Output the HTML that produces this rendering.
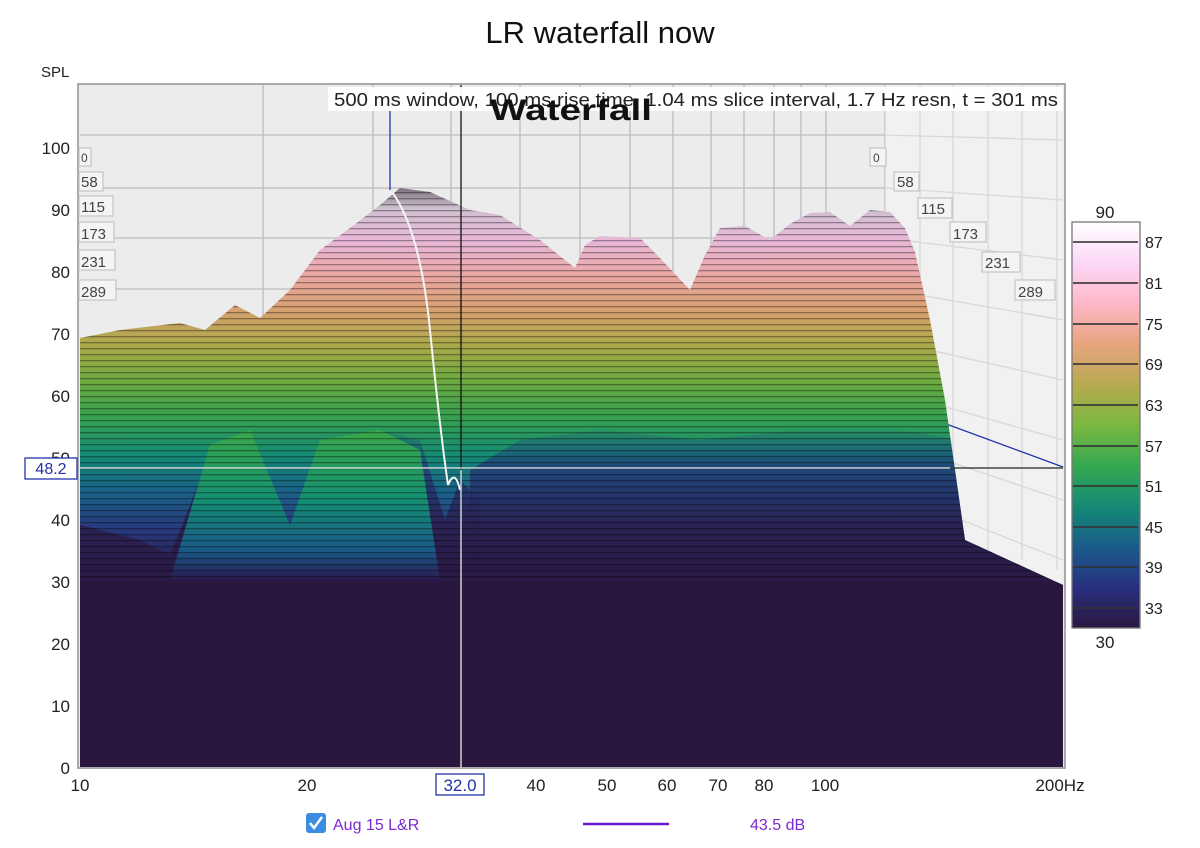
<!DOCTYPE html>
<html><head><meta charset="utf-8"><style>
body{margin:0;background:#fff;font-family:"Liberation Sans",sans-serif;}
svg{display:block}
</style></head><body>
<svg width="1200" height="848" viewBox="0 0 1200 848" xmlns="http://www.w3.org/2000/svg" font-family="Liberation Sans, sans-serif">
<defs>
<linearGradient id="g" gradientUnits="userSpaceOnUse" x1="0" y1="180" x2="0" y2="585">
<stop offset="0" stop-color="#5a5058"/>
<stop offset="0.07" stop-color="#cfc0d0"/>
<stop offset="0.15" stop-color="#e8b8d8"/>
<stop offset="0.23" stop-color="#eaa8a8"/>
<stop offset="0.32" stop-color="#d8a070"/>
<stop offset="0.41" stop-color="#a8a848"/>
<stop offset="0.50" stop-color="#6aaa40"/>
<stop offset="0.59" stop-color="#35a050"/>
<stop offset="0.68" stop-color="#158a74"/>
<stop offset="0.77" stop-color="#1a6088"/>
<stop offset="0.86" stop-color="#283a7c"/>
<stop offset="0.94" stop-color="#2b2158"/>
<stop offset="1" stop-color="#2b1640"/>
</linearGradient>
<linearGradient id="g2" gradientUnits="userSpaceOnUse" x1="0" y1="420" x2="0" y2="600">
<stop offset="0" stop-color="#1e5a88" stop-opacity="0"/>
<stop offset="0.25" stop-color="#223a78" stop-opacity="0.75"/>
<stop offset="0.6" stop-color="#2a2050" stop-opacity="0.95"/>
<stop offset="1" stop-color="#2b1640"/>
</linearGradient>
<linearGradient id="gg" gradientUnits="userSpaceOnUse" x1="0" y1="430" x2="0" y2="580">
<stop offset="0" stop-color="#3aa84a"/>
<stop offset="0.45" stop-color="#159070"/>
<stop offset="0.8" stop-color="#1a5a88"/>
<stop offset="1" stop-color="#2b1a50"/>
</linearGradient>
<linearGradient id="cb" x1="0" y1="0" x2="0" y2="1">
<stop offset="0" stop-color="#ffffff"/>
<stop offset="0.1" stop-color="#fcd8f8"/>
<stop offset="0.2" stop-color="#ffb8c8"/>
<stop offset="0.3" stop-color="#e8a480"/>
<stop offset="0.4" stop-color="#b8aa50"/>
<stop offset="0.5" stop-color="#7ab840"/>
<stop offset="0.6" stop-color="#36a850"/>
<stop offset="0.7" stop-color="#148a74"/>
<stop offset="0.8" stop-color="#1a5c8a"/>
<stop offset="0.9" stop-color="#283080"/>
<stop offset="1" stop-color="#2b1640"/>
</linearGradient>
<pattern id="lines" width="8" height="6" patternUnits="userSpaceOnUse">
<rect x="0" y="0" width="8" height="1.3" fill="#000" opacity="0.35"/>
</pattern>
<clipPath id="surf"><path id="sp" d="M80,338 L120,330 L180,323 L205,330 L235,305 L260,318 L290,290 L320,250 L350,228 L380,205 L400,188 L430,192 L470,210 L500,215 L540,240 L575,268 L585,245 L600,236 L640,238 L660,258 L690,290 L705,255 L720,228 L745,226 L770,240 L790,224 L810,213 L830,212 L850,226 L870,210 L890,212 L905,228 L915,252 L930,320 L945,400 L955,470 L965,540 L1063,585 L1063,767 L80,767 Z"/></clipPath>
</defs>
<text x="600" y="43" text-anchor="middle" font-size="31" fill="#111">LR waterfall now</text>
<text x="41" y="77" font-size="15" fill="#222">SPL</text>
<!-- plot bg -->
<rect x="78" y="84" width="987" height="684" fill="#ececec" stroke="#aaa" stroke-width="2"/>
<g stroke="#bbb" stroke-width="1.3">
<line x1="80" y1="135" x2="885" y2="135"/><line x1="80" y1="188" x2="885" y2="188"/>
<line x1="80" y1="238" x2="885" y2="238"/><line x1="80" y1="289" x2="885" y2="289"/>
<line x1="263" y1="85" x2="263" y2="340"/><line x1="373" y1="85" x2="373" y2="300"/><line x1="451" y1="85" x2="451" y2="300"/>
<line x1="520" y1="85" x2="520" y2="300"/><line x1="580" y1="85" x2="580" y2="300"/><line x1="630" y1="85" x2="630" y2="300"/>
<line x1="673" y1="85" x2="673" y2="300"/><line x1="711" y1="85" x2="711" y2="300"/><line x1="744" y1="85" x2="744" y2="300"/>
<line x1="774" y1="85" x2="774" y2="300"/><line x1="801" y1="85" x2="801" y2="300"/><line x1="826" y1="85" x2="826" y2="300"/>
<line x1="885" y1="85" x2="885" y2="500"/><line x1="920" y1="85" x2="920" y2="520"/><line x1="953" y1="85" x2="953" y2="530"/>
<line x1="988" y1="85" x2="988" y2="550"/><line x1="1022" y1="85" x2="1022" y2="560"/><line x1="1057" y1="85" x2="1057" y2="570"/>
<line x1="885" y1="135" x2="1063" y2="140"/><line x1="885" y1="188" x2="1063" y2="200"/><line x1="885" y1="238" x2="1063" y2="260"/>
<line x1="885" y1="289" x2="1063" y2="320"/><line x1="885" y1="340" x2="1063" y2="380"/><line x1="885" y1="390" x2="1063" y2="440"/>
<line x1="885" y1="440" x2="1063" y2="500"/><line x1="885" y1="490" x2="1063" y2="560"/>
</g>
<rect x="885" y="85" width="178" height="500" fill="#f6f6f6" opacity="0.5"/>
<line x1="930" y1="418" x2="1063" y2="467" stroke="#2233aa" stroke-width="1.3"/>
<!-- surface -->
<use href="#sp" fill="url(#g)"/>
<g clip-path="url(#surf)">
<path d="M470,470 L520,440 L600,430 L700,440 L800,430 L900,430 L960,440 L1063,560 L1063,767 L470,767 Z" fill="url(#g2)"/>
<path d="M80,525 L140,540 L170,555 L200,480 L250,440 L290,530 L330,440 L380,430 L420,440 L445,520 L460,480 L480,500 L480,767 L80,767 Z" fill="url(#g2)"/>
<path d="M170,580 L210,445 L250,430 L290,525 L320,440 L380,430 L420,450 L440,580 Z" fill="url(#gg)"/>
<rect x="80" y="180" width="985" height="420" fill="url(#lines)"/>
<rect x="80" y="582" width="985" height="190" fill="#2b1640"/>
</g>
<path d="M392,192 Q420,230 430,330 Q440,430 448,485 M448,485 Q455,468 460,490" fill="none" stroke="#f4f4f4" stroke-width="2"/>
<!-- crosshair -->
<line x1="390" y1="110" x2="390" y2="190" stroke="#2233aa" stroke-width="1.3"/>
<line x1="461" y1="85" x2="461" y2="768" stroke="#111" stroke-width="1.3"/>
<line x1="461" y1="470" x2="461" y2="768" stroke="#eee" stroke-width="1.3"/>
<line x1="80" y1="468" x2="1063" y2="468" stroke="#eee" stroke-width="1.3"/>
<line x1="950" y1="468" x2="1063" y2="468" stroke="#222" stroke-width="1.3"/>
<!-- info box -->
<rect x="328" y="87" width="735" height="24" fill="#fff" opacity="0.95"/>
<text x="334" y="106" font-size="18" fill="#222" textLength="724" lengthAdjust="spacingAndGlyphs">500 ms window, 100 ms rise time, 1.04 ms slice interval, 1.7 Hz resn, t = 301 ms</text>
<text x="571" y="120" text-anchor="middle" font-size="30" font-weight="bold" fill="#111" textLength="162" lengthAdjust="spacingAndGlyphs">Waterfall</text>
<!-- time labels -->
<g font-size="15" fill="#444">
<g fill="#f4f4f4" stroke="#bbb"><rect x="79" y="148" width="12" height="18"/><rect x="79" y="172" width="24" height="19"/><rect x="79" y="196" width="34" height="20"/><rect x="79" y="222" width="35" height="20"/><rect x="79" y="250" width="36" height="20"/><rect x="79" y="280" width="37" height="20"/>
<rect x="870" y="148" width="16" height="18"/><rect x="894" y="172" width="25" height="19"/><rect x="918" y="198" width="34" height="20"/><rect x="950" y="222" width="36" height="20"/><rect x="982" y="252" width="38" height="20"/><rect x="1015" y="280" width="40" height="20"/></g>
<text x="81" y="162" font-size="12">0</text><text x="81" y="187">58</text><text x="81" y="212">115</text><text x="81" y="239">173</text><text x="81" y="267">231</text><text x="81" y="297">289</text>
<text x="873" y="162" font-size="12">0</text><text x="897" y="187">58</text><text x="921" y="214">115</text><text x="953" y="239">173</text><text x="985" y="268">231</text><text x="1018" y="297">289</text>
</g>
<!-- y axis -->
<g font-size="17" fill="#222" text-anchor="end">
<text x="70" y="154">100</text><text x="70" y="216">90</text><text x="70" y="278">80</text><text x="70" y="340">70</text><text x="70" y="402">60</text><text x="70" y="464">50</text><text x="70" y="526">40</text><text x="70" y="588">30</text><text x="70" y="650">20</text><text x="70" y="712">10</text><text x="70" y="774">0</text>
</g>
<rect x="25" y="458" width="52" height="21" fill="#fff" stroke="#2233aa" stroke-width="1.3"/>
<text x="51" y="474" font-size="16" fill="#2233aa" text-anchor="middle">48.2</text>
<!-- x axis -->
<g font-size="17" fill="#222" text-anchor="middle">
<text x="80" y="791">10</text><text x="307" y="791">20</text><text x="536" y="791">40</text><text x="607" y="791">50</text><text x="667" y="791">60</text><text x="718" y="791">70</text><text x="764" y="791">80</text><text x="825" y="791">100</text><text x="1060" y="791">200Hz</text>
</g>
<rect x="436" y="774" width="48" height="21" fill="#fff" stroke="#2233aa" stroke-width="1.3"/>
<text x="460" y="791" font-size="17" fill="#2233aa" text-anchor="middle">32.0</text>
<!-- colorbar -->
<text x="1105" y="218" font-size="17" fill="#222" text-anchor="middle">90</text>
<rect x="1072" y="222" width="68" height="406" fill="url(#cb)" stroke="#777" stroke-width="1.3"/>
<g stroke="#333" stroke-width="2" opacity="0.8">
<line x1="1073" y1="242" x2="1138" y2="242"/><line x1="1073" y1="283" x2="1138" y2="283"/><line x1="1073" y1="324" x2="1138" y2="324"/><line x1="1073" y1="364" x2="1138" y2="364"/><line x1="1073" y1="405" x2="1138" y2="405"/><line x1="1073" y1="446" x2="1138" y2="446"/><line x1="1073" y1="486" x2="1138" y2="486"/><line x1="1073" y1="527" x2="1138" y2="527"/><line x1="1073" y1="567" x2="1138" y2="567"/><line x1="1073" y1="608" x2="1138" y2="608"/>
</g>
<g font-size="16" fill="#222">
<text x="1145" y="248">87</text><text x="1145" y="289">81</text><text x="1145" y="330">75</text><text x="1145" y="370">69</text><text x="1145" y="411">63</text><text x="1145" y="452">57</text><text x="1145" y="492">51</text><text x="1145" y="533">45</text><text x="1145" y="573">39</text><text x="1145" y="614">33</text>
</g>
<text x="1105" y="648" font-size="17" fill="#222" text-anchor="middle">30</text>
<!-- legend -->
<rect x="306" y="813" width="20" height="20" rx="3" fill="#3a8de0"/>
<path d="M310,823 L314,828 L322,817" fill="none" stroke="#fff" stroke-width="2.5"/>
<text x="333" y="830" font-size="16" fill="#7a2ad0">Aug 15 L&amp;R</text>
<line x1="583" y1="824" x2="669" y2="824" stroke="#6a1ad0" stroke-width="2.5"/>
<text x="750" y="830" font-size="16" fill="#7a2ad0">43.5 dB</text>
</svg>
</body></html>
